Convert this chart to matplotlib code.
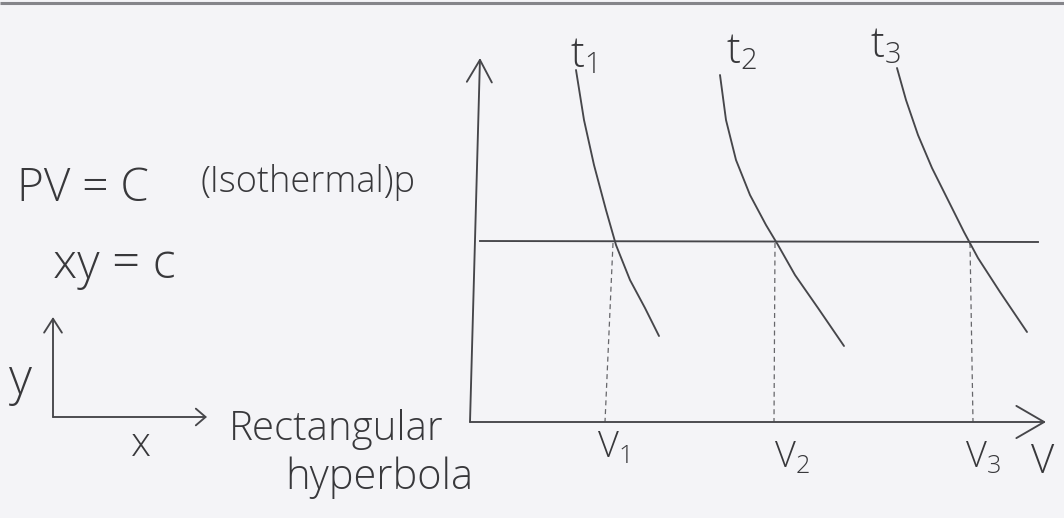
import matplotlib
matplotlib.use("Agg")
import matplotlib.pyplot as plt

# ---------------------------------------------------------------
# Sketch data (canvas units: x to the right, y downwards)
# ---------------------------------------------------------------
# Isotherms t1, t2, t3 on the P-V diagram
t1_x = [576, 584, 594, 606, 616, 630, 645, 659]
t1_y = [70, 120, 165, 210, 245, 280, 308, 336]
t2_x = [720, 726, 736, 750, 766, 778, 795, 818, 844]
t2_y = [75, 120, 160, 195, 225, 245, 275, 308, 346]
t3_x = [897, 906, 918, 932, 948, 964, 978, 1000, 1027]
t3_y = [68, 100, 135, 168, 200, 232, 258, 292, 332]
isotherm_names = ["1", "2", "3"]

# Constant-pressure line and the volumes where it meets each isotherm
isobar_x = [480, 1038]
isobar_y = [241, 242]
drop_top_x = [613, 775, 970]
drop_bot_x = [605, 774, 973]
drop_top_y = 243
volume_names = ["1", "2", "3"]

# Axes of the P-V diagram
pv_origin = (470, 422)
pv_ytip = (480, 58)
pv_xtip = (1046, 422)

# Small x-y sketch
xy_origin = (53, 417)
xy_ytip = (53, 317)
xy_xtip = (207, 417)

INK = "#38383b"
LINE = "#46464a"
PAPER = "#f4f4f7"

plt.rcParams["font.family"] = ["Open Sans", "DejaVu Sans"]
plt.rcParams["font.weight"] = 300
plt.rcParams["mathtext.fontset"] = "custom"
plt.rcParams["mathtext.rm"] = "Open Sans:light"

fig = plt.figure(figsize=(10.64, 5.18), dpi=100, facecolor=PAPER)
ax = fig.add_axes([0, 0, 1, 1])
ax.set_xlim(0, 1064)
ax.set_ylim(518, 0)
ax.set_facecolor(PAPER)
ax.axis("off")

# dark edge along the top of the page
ax.plot([0, 1064], [3, 3], color="#85858a", lw=2.2, zorder=1,
        solid_capstyle="butt")


def arrow(start, tip, hl, hw, lw=1.35):
    ax.annotate("", xy=tip, xytext=start, zorder=3,
                arrowprops=dict(arrowstyle=f"->,head_length={hl},head_width={hw}",
                                lw=lw, color=LINE, shrinkA=0, shrinkB=0,
                                mutation_scale=20))


# P-V axes
arrow(pv_origin, pv_ytip, 0.8, 0.45)
arrow(pv_origin, pv_xtip, 1.0, 0.58)

# isotherms
for xs, ys in [(t1_x, t1_y), (t2_x, t2_y), (t3_x, t3_y)]:
    ax.plot(xs, ys, color=LINE, lw=1.35, zorder=3, solid_capstyle="round")

# isobar
ax.plot(isobar_x, isobar_y, color=LINE, lw=1.35, zorder=3)

# dashed drops to the V axis
for xt, xb in zip(drop_top_x, drop_bot_x):
    ax.plot([xt, xb], [drop_top_y, pv_origin[1]], color="#66666a", lw=0.9,
            dashes=(4, 3), zorder=2)

# small x-y axes
arrow(xy_origin, xy_ytip, 0.5, 0.32)
arrow(xy_origin, xy_xtip, 0.35, 0.3)


def label(x, y, s, fs):
    """Text with its left edge at x and baseline at y."""
    return ax.text(x, y, s, fontsize=fs, color=INK, ha="left",
                   va="baseline", zorder=4)


label(17, 201, "PV = C", 33)
label(200, 192, "(Isothermal)p", 26)
label(53, 278, "xy = c", 35)
label(9, 394, "y", 36)
label(131, 456, "x", 29)
label(229, 440, "Rectangular", 29)
label(285, 489, "hyperbola", 30)

# isotherm labels
t_left = [570, 726, 870]
t_base = [67, 63, 57]
for name, lx, ly in zip(isotherm_names, t_left, t_base):
    label(lx, ly, r"$\mathrm{t}_{%s}$" % name, 30)

# volume labels
v_left = [597, 774, 965]
v_base = [457, 467, 467]
for name, lx, ly in zip(volume_names, v_left, v_base):
    label(lx, ly, r"$\mathrm{V}_{%s}$" % name, 26)
label(1031, 473, "V", 29)

fig.savefig("out.png", dpi=100, facecolor=PAPER)
